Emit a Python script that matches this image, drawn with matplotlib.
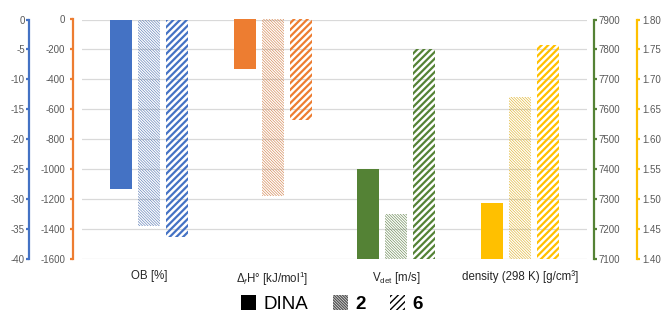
import numpy as np
import matplotlib
matplotlib.use('Agg')
import matplotlib.pyplot as plt
from matplotlib.patches import Patch

plt.rcParams['font.family'] = ['Liberation Sans', 'DejaVu Sans']
plt.rcParams['mathtext.fontset'] = 'custom'
plt.rcParams['mathtext.rm'] = 'Liberation Sans'
plt.rcParams['mathtext.it'] = 'Liberation Sans:italic'
plt.rcParams['axes.unicode_minus'] = False

## datos
categorias = ['OB [%]', r'$\Delta_f$H° [kJ/mol$^{1}$]', r'V$_{\rm det}$ [m/s]', 'density (298 K) [g/cm³]']
series = ['DINA', '2', '6']
ob = [-28.3, -34.5, -36.3]
dfh = [-330, -1180, -673]
vdet = [7400, 7250, 7800]
dens = [1.493, 1.670, 1.758]

colores = ['#4472C4', '#ED7D31', '#548235', '#FFC000']
gris = '#595959'

fig = plt.figure(figsize=(6.64, 3.2), dpi=100)
l, r, b, t = 82/664, 587/664, 1-259/320, 1-19.5/320
ax = fig.add_axes([l, b, r-l, t-b])	# OB (azul)
ax_h = ax.twinx()	# entalpia (naranja)
ax_v = ax.twinx()	# Vdet (verde)
ax_d = ax.twinx()	# densidad (amarillo)
ejes = [ax, ax_h, ax_v, ax_d]

w = 0.178
paso = 0.226
desp = [-paso, 0, paso]
finas = '\\' * 12
gruesas = '/' * 5

def mezcla(c, f=0.3):
	rgb = np.array(matplotlib.colors.to_rgb(c))
	return tuple(rgb*(1-f) + np.array([0.6, 0.6, 0.6])*f)

def barras(a, i, vals, base):
	c = colores[i]
	for k in range(3):
		if k == 0:
			p = a.bar(i+desp[k], vals[k]-base, w, bottom=base, color=c, linewidth=0)
		elif k == 1:
			p = a.bar(i+desp[k], vals[k]-base, w, bottom=base, facecolor='none', edgecolor=mezcla(c), hatch=finas, linewidth=0)
		else:
			p = a.bar(i+desp[k], vals[k]-base, w, bottom=base, facecolor='none', edgecolor=c, hatch=gruesas, linewidth=0)
		for rect in p:
			if hasattr(rect, 'set_hatch_linewidth'):
				rect.set_hatch_linewidth(0.45 if k == 1 else 1.6)

with plt.rc_context({'hatch.linewidth': 1.6}):
	barras(ax, 0, ob, 0)
	barras(ax_h, 1, dfh, 0)
	barras(ax_v, 2, vdet, 7100)
	barras(ax_d, 3, dens, 1.40)

ax.set_xlim(-0.54, 3.54)
ax.set_ylim(-40, 0)
ax.set_yticks(np.arange(-40, 1, 5))
ax_h.set_ylim(-1600, 0)
ax_h.set_yticks(np.arange(-1600, 1, 200))
ax_v.set_ylim(7100, 7900)
ax_v.set_yticks(np.arange(7100, 7901, 100))
ax_d.set_ylim(1.40, 1.80)
ax_d.set_yticks(np.linspace(1.40, 1.80, 9))
ax_d.set_yticklabels(['%.2f' % v for v in np.linspace(1.40, 1.80, 9)])

## rejilla
for y in np.arange(-40, 1, 5):
	ax.axhline(y, color='#D9D9D9', linewidth=0.9, zorder=0)
ax.set_axisbelow(True)

for a in ejes:
	for s in a.spines.values():
		s.set_visible(False)

ax_h.yaxis.set_ticks_position('left')
ax_h.yaxis.set_label_position('left')

## desplazamientos en puntos (1 px = 0.72 pt)
pos = {ax: ('left', 53*0.72, 1), ax_h: ('left', 9*0.72, 3.5), ax_v: ('right', 7*0.72, 1.5), ax_d: ('right', 50*0.72, 1.5)}
for i, a in enumerate(ejes):
	lado, off, pad = pos[a]
	a.spines[lado].set_visible(True)
	a.spines[lado].set_position(('outward', off))
	a.spines[lado].set_color(colores[i])
	a.spines[lado].set_linewidth(1.6)
	a.tick_params(axis='y', which='both', direction='out', length=2, width=1.6, color=colores[i],
		labelcolor=gris, labelsize=7, pad=pad, left=(lado == 'left'), right=(lado == 'right'),
		labelleft=(lado == 'left'), labelright=(lado == 'right'))

ax.set_xticks(range(4))
ax.set_xticklabels(categorias, fontsize=8.3, color='#262626')
ax.tick_params(axis='x', length=0, pad=8)

## leyenda
hs = [Patch(facecolor='black', edgecolor='black', linewidth=0),
	Patch(facecolor='none', edgecolor='#555555', hatch=finas, linewidth=0),
	Patch(facecolor='none', edgecolor='black', hatch=gruesas, linewidth=0)]
leg = fig.legend(hs, series, loc='center', bbox_to_anchor=(0.5, 16/320), ncol=3, frameon=False,
	fontsize=13.5, handlelength=0.8, handleheight=0.8, handletextpad=0.4, columnspacing=1.3)
for txt in leg.get_texts()[1:]:
	txt.set_fontweight('bold')

fig.savefig('out.png', dpi=100)
